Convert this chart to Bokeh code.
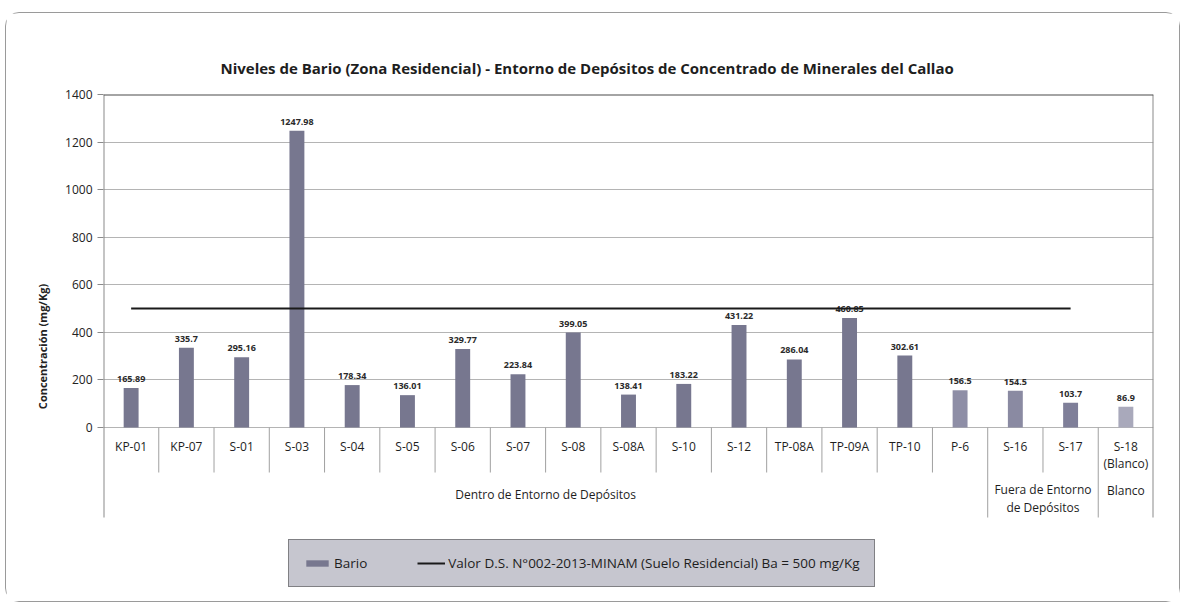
import numpy as np
from bokeh.plotting import figure
from bokeh.models import ColumnDataSource, FixedTicker, Span, Legend, LegendItem, Range1d
from bokeh.embed import file_html
from bokeh.resources import INLINE
from bokeh.core.properties import value

# ---------------- data ----------------
categories = ["KP-01", "KP-07", "S-01", "S-03", "S-04", "S-05", "S-06", "S-07", "S-08",
              "S-08A", "S-10", "S-12", "TP-08A", "TP-09A", "TP-10", "P-6", "S-16", "S-17",
              "S-18\n(Blanco)"]
bario = [165.89, 335.7, 295.16, 1247.98, 178.34, 136.01, 329.77, 223.84, 399.05,
         138.41, 183.22, 431.22, 286.04, 460.85, 302.61, 156.5, 154.5, 103.7, 86.9]
bar_colors = ["#77778f"] * 15 + ["#8e8ea6", "#8a8aa2", "#7f7f99", "#a9a9bb"]
groups = ["Dentro de Entorno de Depósitos", "Fuera de Entorno\nde Depósitos", "Blanco"]
group_sizes = [16, 2, 1]
limit_value = 500          # D.S. N°002-2013-MINAM, Ba suelo residencial
limit_n = 18               # limit line spans the non-blank samples
y_ticks = [0, 200, 400, 600, 800, 1000, 1200, 1400]

title = "Niveles de Bario (Zona Residencial) - Entorno de Depósitos de Concentrado de Minerales del Callao"
y_label = "Concentración (mg/Kg)"
legend_bar = "Bario"
legend_line = "Valor D.S. N°002-2013-MINAM (Suelo Residencial) Ba = 500 mg/Kg"

FONT = "Open Sans"

# ---------------- layout ----------------
FRAME_W = 1050
PX_PLOT = 333                 # pixels from 0 to 1400
PX_BELOW = 171                # pixels below the zero line inside the frame
FRAME_H = PX_PLOT + PX_BELOW
Y_MAX = 1400
UPP = Y_MAX / PX_PLOT         # data units per pixel
Y_MIN = -PX_BELOW * UPP
AX_BOTTOM = -90 * UPP         # where the axis area ends (above the legend)

n = len(categories)
x = np.arange(n) + 0.5

p = figure(output_backend="svg", toolbar_location=None, x_axis_location=None,
           frame_width=FRAME_W, frame_height=FRAME_H,
           x_range=Range1d(0, n), y_range=Range1d(Y_MIN, Y_MAX),
           min_border_left=97, min_border_right=26, min_border_top=81, min_border_bottom=3)
p.styles = {"border": "1px solid #9a9a9a", "border-radius": "14px",
            "margin-left": "5px", "margin-top": "12px"}
p.outline_line_color = None
p.background_fill_color = "white"
p.border_fill_color = "white"

# title
p.title.text = title
p.title.text_font = FONT
p.title.text_font_size = "15px"
p.title.text_font_style = "bold"
p.title.text_color = "#1e1e1e"
p.title.align = "left"
p.title.offset = 117
p.title.standoff = 34

# axes
p.xgrid.visible = False
yax = p.yaxis[0]
yax.ticker = FixedTicker(ticks=y_ticks)
yax.minor_tick_line_color = None
yax.major_tick_in = 0
yax.major_tick_out = 6
yax.major_tick_line_color = "#8a8a8a"
yax.axis_line_color = None
yax.major_label_text_font = FONT
yax.major_label_text_font_size = "12px"
yax.major_label_text_color = "#222222"
yax.axis_label = y_label
yax.axis_label_text_font = FONT
yax.axis_label_text_font_size = "11px"
yax.axis_label_text_font_style = "bold"
yax.axis_label_text_color = "#222222"
yax.axis_label_standoff = 12
p.ygrid.ticker = FixedTicker(ticks=y_ticks[:-1])
p.ygrid.grid_line_color = "#b4b4b4"

# frame top line, left axis line and right edge (ending above the legend)
p.add_layout(Span(location=Y_MAX, dimension="width", line_color="#4a4a4a", line_width=2))
p.segment(x0=[0, n], y0=[AX_BOTTOM, AX_BOTTOM], x1=[0, n], y1=[Y_MAX, Y_MAX],
          line_color="#8a8a8a", line_width=2)

# bars
src = ColumnDataSource(dict(x=x, top=bario, color=bar_colors,
                            lab=[str(v) for v in bario],
                            ly=np.array(bario) + 6 * UPP,
                            cy=[-10 * UPP] * n,
                            cat=categories))
bars = p.vbar(x="x", top="top", width=0.27, bottom=0, fill_color="color",
              line_color=None, source=src)
p.text(x="x", y="ly", text="lab", source=src, text_align="center", text_baseline="bottom",
       text_font=value(FONT), text_font_size="9px", text_font_style="bold", text_color="#2a2a2a")

# limit line
lsrc = ColumnDataSource(dict(x=x[:limit_n], y=[limit_value] * limit_n))
lim = p.line(x="x", y="y", source=lsrc, line_color="#1a1a1a", line_width=2)

# category labels
p.text(x="x", y="cy", text="cat", source=src, text_align="center",
       text_baseline="top", text_font=value(FONT), text_font_size="12px",
       text_color="#1e1e1e", text_line_height=1.0)

# dividers between categories
bounds = np.cumsum(group_sizes)
inner = [int(b) for b in range(1, n) if b not in bounds]
p.segment(x0=inner, y0=[0] * len(inner), x1=inner, y1=[-45 * UPP] * len(inner),
          line_color="#a0a0a0", line_width=1)
outer = [int(b) for b in bounds[:-1]]
p.segment(x0=outer, y0=[0] * len(outer), x1=outer, y1=[AX_BOTTOM] * len(outer),
          line_color="#a0a0a0", line_width=1)

# group labels
starts = np.concatenate([[0], bounds[:-1]])
gx = list((starts + bounds) / 2.0)
gy = [-67 * UPP, -71 * UPP, -63 * UPP]
p.text(x=gx, y=gy, text=groups, text_align="center", text_baseline="middle",
       text_font=value(FONT), text_font_size="12px", text_color="#1e1e1e",
       text_line_height=1.05)

# legend (inside the frame, below the category area)
legend = Legend(items=[LegendItem(label=legend_bar, renderers=[bars]),
                       LegendItem(label=legend_line, renderers=[lim])],
                orientation="horizontal", location=(185, 11))
legend.background_fill_color = "#c6c6cf"
legend.background_fill_alpha = 1.0
legend.border_line_color = "#3a3a3a"
legend.border_line_width = 1.5
legend.label_text_font = FONT
legend.label_text_font_size = "13.5px"
legend.label_text_color = "#1e1e1e"
legend.glyph_width = 28
legend.glyph_height = 8
legend.label_height = 14
legend.label_standoff = 3
legend.spacing = 50
legend.padding = 14
legend.margin = 0
p.add_layout(legend)

open("out.html", "w").write(file_html(p, INLINE))
